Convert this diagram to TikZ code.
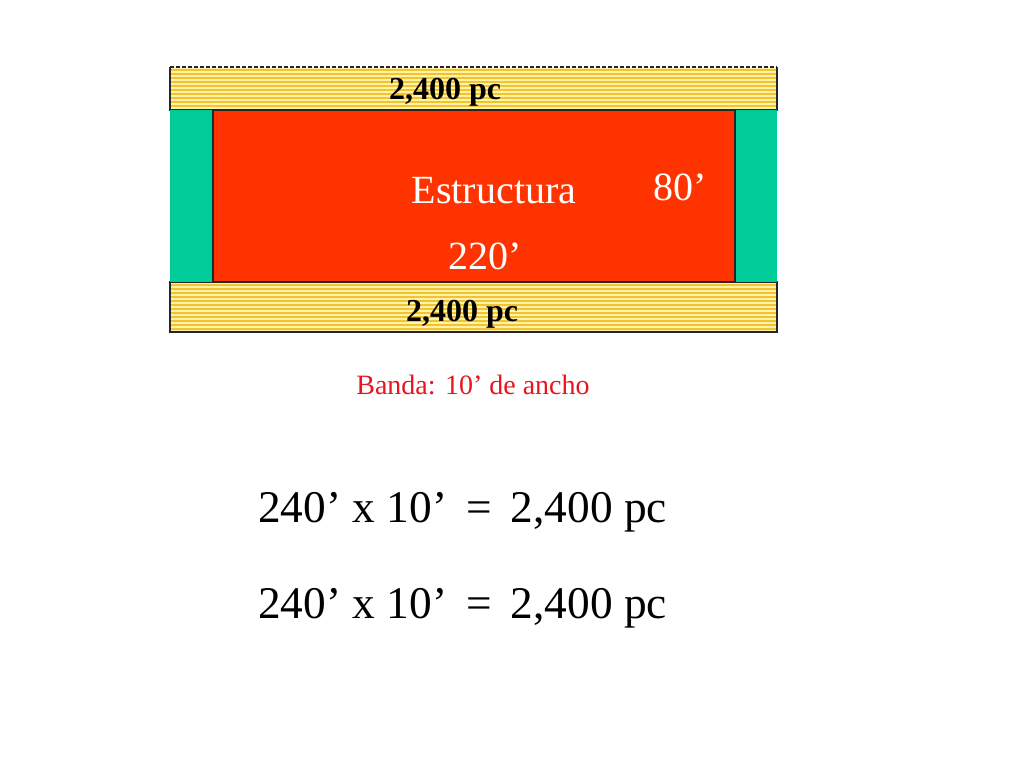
\documentclass[tikz,border=0pt]{standalone}
\usepackage{fontspec}
\setmainfont{Liberation Serif}
\definecolor{bandlight}{HTML}{FFF3A8}
\definecolor{bandgold}{HTML}{F2C230}
\definecolor{greencol}{HTML}{00CC99}
\definecolor{redbox}{HTML}{FF3300}
\definecolor{labelred}{HTML}{E8141E}
\tikzset{
  band/.style={fill=bandlight},
  stripe/.style={draw=bandgold, line width=1.5pt},
  outline/.style={draw=black!85, line width=0.9pt},
  bandlabel/.style={font=\fontsize{24}{26}\selectfont\bfseries, text=black, inner sep=0pt},
  whitelabel/.style={font=\fontsize{30}{32}\selectfont, text=white, inner sep=0pt},
  eqlabel/.style={font=\fontsize{34}{36}\selectfont, text=black, inner sep=0pt},
}
\begin{document}
\begin{tikzpicture}[x=0.75pt,y=-0.75pt]
\path[use as bounding box, fill=white] (0,0) rectangle (1024,768);
% top band
\fill[band] (170,67) rectangle (777,110);
\foreach \y in {70,74,...,108} {\draw[stripe] (170,\y) -- (777,\y);}
\draw[outline] (170,67) -- (170,110) -- (777,110) -- (777,67);
\draw[black!85, line width=0.9pt, dash pattern=on 3pt off 1.5pt] (170,67) -- (777,67);
% bottom band
\fill[band] (170,282) rectangle (777,332);
\foreach \y in {285,289,...,330} {\draw[stripe] (170,\y) -- (777,\y);}
\draw[outline] (170,282) rectangle (777,332);
% green columns and red structure
\fill[greencol] (170,110) rectangle (213,282);
\fill[greencol] (735,110) rectangle (777,282);
\filldraw[fill=redbox, outline] (213,110) rectangle (735,282);
% labels
\node[bandlabel] (topband) at (445,92) {2,400 pc};
\node[bandlabel] (botband) at (462,314) {2,400 pc};
\node[whitelabel] (estr) at (494,191) {Estructura};
\node[whitelabel] (eighty) at (680,187) {80’};
\node[whitelabel] (twotwenty) at (485,256) {220’};
\node[font=\fontsize{21}{23}\selectfont, text=labelred, inner sep=0pt] (banda) at (473,385) {Banda: 10’ de ancho};
\node[eqlabel, anchor=west] (eq1) at (258,512) {240’ x 10’\hspace{0.42em}=\hspace{0.42em}2,400 pc};
\node[eqlabel, anchor=west] (eq2) at (258,608) {240’ x 10’\hspace{0.42em}=\hspace{0.42em}2,400 pc};
\end{tikzpicture}
\end{document}
